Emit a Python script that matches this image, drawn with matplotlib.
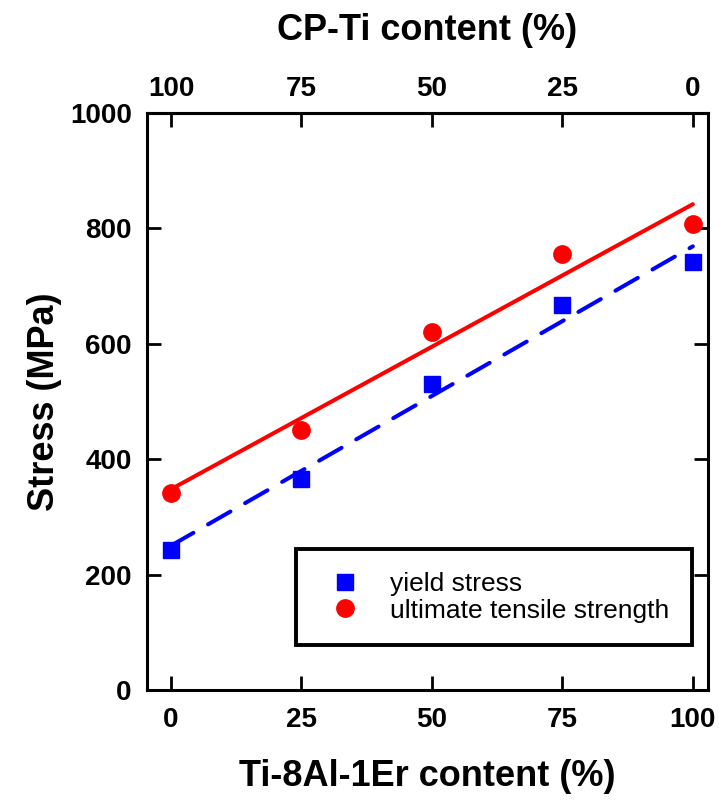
import matplotlib
matplotlib.use("Agg")
import matplotlib.pyplot as plt
import numpy as np

plt.rcParams['font.family'] = ['Liberation Sans', 'DejaVu Sans']

# Ti-8Al-1Er fraction in the blend (%), CP-Ti is the rest
ti8al_content = [0, 25, 50, 75, 100]
yield_stress = [243, 366, 531, 667, 741]
uts = [342, 450, 621, 755, 807]
xticks = [0, 25, 50, 75, 100]
yticks = [0, 200, 400, 600, 800, 1000]

fig = plt.figure(figsize=(7.19, 8.01), dpi=100)
ax = fig.add_axes([0.2045, 0.1386, 0.7802, 0.7203])

ax.plot(ti8al_content, yield_stress, 's', color='#0000ff', ms=11,
        ls='none', label='yield stress', zorder=2)
ax.plot(ti8al_content, uts, 'o', color='#ff0000', ms=12.5,
        ls='none', label='ultimate tensile strength', zorder=2)

# linear fits through each data set
xfit = np.array([0, 100])
p_ys = np.polyfit(ti8al_content, yield_stress, 1)
p_uts = np.polyfit(ti8al_content, uts, 1)
ax.plot(xfit, np.polyval(p_uts, xfit), color='#ff0000', lw=2.9,
        solid_capstyle='round', zorder=3)
ax.plot(xfit, np.polyval(p_ys, xfit), color='#0000ff', lw=2.9,
        dashes=(6.4, 4.2), dash_capstyle='round', zorder=3)

ax.set_xlim(-4.6, 102.9)
ax.set_ylim(0, 1000)
ax.set_xticks(xticks)
ax.set_yticks(yticks)

for s in ax.spines.values():
    s.set_linewidth(2.2)
ax.tick_params(axis='both', direction='in', length=10, width=2,
               labelsize=20, top=False, right=True)
ax.tick_params(axis='x', pad=12)
ax.tick_params(axis='y', pad=11)
for lab in ax.get_xticklabels() + ax.get_yticklabels():
    lab.set_fontweight('bold')

# CP-Ti content runs the opposite way along the top
top = ax.secondary_xaxis('top', functions=(lambda x: 100 - x, lambda x: 100 - x))
top.set_xticks(xticks)
top.tick_params(direction='in', length=10, width=2, labelsize=20, pad=8)
for lab in top.get_xticklabels():
    lab.set_fontweight('bold')
top.spines['top'].set_linewidth(2.2)
top.set_xlabel('CP-Ti content (%)', fontsize=26, fontweight='bold', labelpad=26)

ax.set_xlabel('Ti-8Al-1Er content (%)', fontsize=26, fontweight='bold', labelpad=19)
ax.set_ylabel('Stress (MPa)', fontsize=26, fontweight='bold', labelpad=6)

leg = ax.legend(loc='lower right', bbox_to_anchor=(0.9715, 0.078), fontsize=19,
                frameon=True, fancybox=False, edgecolor='black', framealpha=1,
                borderpad=0.85, handletextpad=0.72, labelspacing=0.1,
                handlelength=2.0, borderaxespad=0)
leg.get_frame().set_linewidth(2.8)

fig.savefig('out.png', dpi=100)
